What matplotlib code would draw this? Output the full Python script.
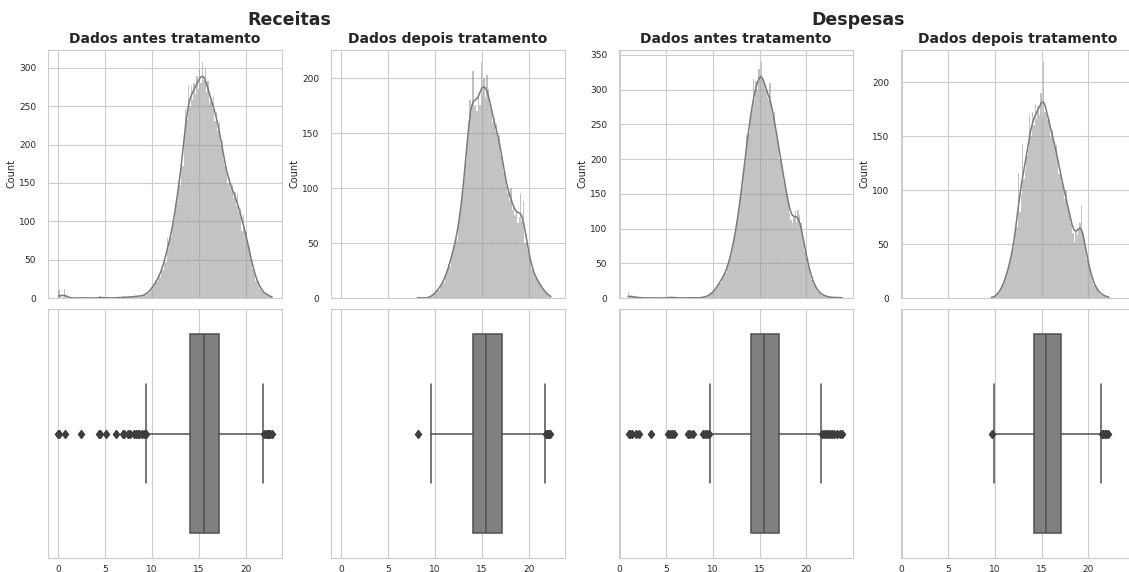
import numpy as np
import matplotlib
matplotlib.use("Agg")
import matplotlib.pyplot as plt
import seaborn as sns

# histogram counts, bins of width 0.15 starting at *_start
bin_w = 0.15

rec_antes_start = 0.0
rec_antes_counts = [
    10, 2, 0, 1, 12, 2, 0, 0, 0, 0, 0, 0, 0, 0, 0, 0, 1,
    0, 0, 0, 0, 0, 0, 0, 0, 0, 0, 0, 0, 2, 1, 0, 0, 1,
    0, 0, 0, 0, 0, 0, 1, 0, 0, 1, 0, 1, 2, 1, 0, 1, 2, 1, 1, 2, 2, 3, 2, 3, 3, 2,
    2, 5, 4, 8, 7, 12, 11, 17, 15, 24, 21, 31, 28, 40, 36, 52, 47, 78, 64, 80,
    79, 98, 102, 124, 127, 152, 148, 180, 172, 214, 247, 232, 278, 250, 276, 258,
    281, 266, 290, 272, 298, 280, 308, 284, 300, 268, 283, 254, 262, 246, 264, 231,
    242, 218, 230, 199, 206, 180, 172, 168, 150, 158, 143, 147, 131, 138, 120, 135,
    112, 116, 88, 108, 86, 86, 70, 66, 52, 50, 38, 33, 22, 21, 20, 12, 9, 8, 5, 6,
    3, 4, 2, 2,
]

rec_depois_start = 8.1
rec_depois_counts = [
    1, 0, 0, 0, 0, 0, 0, 0, 0, 1, 2, 3, 4, 6, 8, 7, 11, 13, 16, 14, 22, 26, 31, 28,
    40, 44, 48, 55, 52, 70, 77, 84, 98, 108, 125, 146, 160, 180, 168, 207, 175, 176,
    170, 186, 176, 215, 185, 200, 182, 203, 190, 177, 172, 160, 164, 152, 158, 145,
    148, 130, 128, 115, 110, 102, 96, 88, 100, 80, 85, 76, 80, 68, 74, 96, 70, 88,
    50, 58, 44, 40, 32, 26, 24, 20, 18, 16, 14, 12, 9, 8, 6, 5, 3, 2, 2,
]

desp_antes_start = 0.9
desp_antes_counts = [
    8, 3, 2, 1, 0, 1, 2, 1, 0, 0, 0, 0, 0, 0, 0, 0, 1,
    0, 0, 0, 0, 0, 0, 0, 0, 0, 0, 0, 1, 2, 0, 1, 2,
    0, 0, 0, 0, 0, 0, 0, 0, 0, 1, 0, 1, 0, 1, 0, 0, 0, 0, 0, 0, 2, 1, 2, 2, 3,
    4, 6, 8, 12, 11, 16, 20, 24, 22, 30, 33, 38, 36, 48, 55, 62, 70, 82, 92, 100,
    118, 128, 150, 160, 178, 196, 234, 235, 238, 262, 270, 315, 285, 312, 300, 330,
    322, 340, 315, 305, 300, 290, 285, 310, 270, 262, 268, 240, 232, 218, 200, 196,
    185, 168, 158, 150, 135, 122, 112, 108, 118, 125, 110, 127, 120, 108, 90, 80,
    66, 62, 48, 42, 32, 26, 20, 17, 14, 10, 8, 6, 5, 4, 3, 2, 2, 1, 1, 1, 1, 1, 0,
    1, 0, 1, 1,
]

desp_depois_start = 9.6
desp_depois_counts = [
    1, 0, 1, 2, 3, 5, 7, 9, 12, 15, 20, 24, 28, 34, 38, 46, 52, 60, 66, 116, 80, 96,
    143, 110, 120, 132, 138, 170, 150, 172, 160, 180, 166, 178, 170, 190, 168, 219,
    172, 170, 165, 166, 150, 156, 146, 140, 142, 128, 115, 118, 108, 104, 92, 100,
    84, 80, 70, 72, 60, 52, 62, 58, 64, 70, 85, 60, 48, 45, 36, 32, 26, 20, 16, 12,
    10, 8, 6, 5, 3, 3, 2, 2, 1, 1,
]

# boxplot stats: whislo, q1, median, q3, whishi
rec_antes_box = [9.36, 14.0, 15.57, 17.16, 21.84]
rec_antes_fliers = [0.0, 0.1, 0.67, 2.41, 4.33, 4.47, 5.04, 6.17, 6.88, 7.0, 7.4, 7.66,
                    8.12, 8.3, 8.5, 8.65, 8.94, 9.18, 9.3,
                    21.95, 22.1, 22.2, 22.3, 22.4, 22.5, 22.6, 22.77]
rec_depois_box = [9.52, 14.03, 15.45, 17.09, 21.67]
rec_depois_fliers = [8.13, 21.8, 21.95, 22.05, 22.15, 22.3]
desp_antes_box = [9.70, 14.12, 15.51, 17.11, 21.53]
desp_antes_fliers = [0.96, 1.14, 1.32, 1.78, 2.03, 3.39, 5.13, 5.35, 5.6, 5.78, 7.31,
                     7.56, 7.91, 8.91, 9.16, 9.4, 9.62,
                     21.7, 21.9, 22.1, 22.3, 22.5, 22.7, 23.0, 23.3, 23.6, 23.8]
desp_depois_box = [9.93, 14.18, 15.46, 17.02, 21.35]
desp_depois_fliers = [9.72, 21.45, 21.6, 21.75, 21.9, 22.15]

groups = ["Receitas", "Despesas"]
titles = ["Dados antes tratamento", "Dados depois tratamento"]

sns.set_style("whitegrid")

W, H = 1129, 572
fig = plt.figure(figsize=(W / 100, H / 100), dpi=100)


def px_axes(left, top, width, height):
    return fig.add_axes([left / W, 1 - (top + height) / H, width / W, height / H])


panels = [
    (rec_antes_start, rec_antes_counts, rec_antes_box, rec_antes_fliers, (-1.1, 23.85)),
    (rec_depois_start, rec_depois_counts, rec_depois_box, rec_depois_fliers, (-1.1, 23.85)),
    (desp_antes_start, desp_antes_counts, desp_antes_box, desp_antes_fliers, (-0.07, 25.0)),
    (desp_depois_start, desp_depois_counts, desp_depois_box, desp_depois_fliers, (-0.07, 25.0)),
]
lefts = [48, 331, 619, 901]
text_c = "#262626"
bw = 0.32

for i, (start, counts, box, fliers, xlim) in enumerate(panels):
    counts = np.array(counts, dtype=float)
    edges = start + bin_w * np.arange(len(counts) + 1)
    centers = (edges[:-1] + edges[1:]) / 2

    ax = px_axes(lefts[i], 50, 234, 248)
    ax.hist(centers, bins=edges, weights=counts, color="#808080", alpha=0.5,
            edgecolor="white", linewidth=0.1)
    # kde of the binned data, scaled to bar height
    grid = np.linspace(edges[0], edges[-1], 300)
    dens = (counts[None, :] * np.exp(-0.5 * ((grid[:, None] - centers[None, :]) / bw) ** 2)).sum(1)
    dens *= bin_w / (bw * np.sqrt(2 * np.pi))
    ax.plot(grid, dens, color="#7a7a7a", lw=1.1)
    ax.set_xlim(*xlim)
    ax.set_xticks([0, 5, 10, 15, 20])
    ax.tick_params(labelbottom=False, labelsize=6.5, colors=text_c, pad=5)
    ax.set_ylabel("Count", fontsize=7, color=text_c, labelpad=2)
    ax.set_title(titles[i % 2], fontsize=10, fontweight="bold", color=text_c, pad=5)

    bx = px_axes(lefts[i], 309, 234, 249)
    stats = [dict(whislo=box[0], q1=box[1], med=box[2], q3=box[3], whishi=box[4],
                  fliers=fliers)]
    line_c = "#505050"
    bx.bxp(stats, positions=[0], widths=0.8, orientation="horizontal", patch_artist=True,
           boxprops=dict(facecolor="#808080", edgecolor=line_c, linewidth=1.1),
           medianprops=dict(color=line_c, linewidth=1.1),
           whiskerprops=dict(color=line_c, linewidth=1.1),
           capprops=dict(color=line_c, linewidth=1.1),
           flierprops=dict(marker="d", markerfacecolor="#3d3d3d", markeredgecolor="#3d3d3d",
                           markersize=4.5))
    bx.set_ylim(0.5, -0.5)
    bx.set_yticks([])
    bx.set_xlim(*xlim)
    bx.set_xticks([0, 5, 10, 15, 20])
    bx.set_xticklabels(["0", "5", "10", "15", "20"])
    bx.tick_params(labelsize=6.5, colors=text_c, pad=1.5)

fig.text(289 / W, 1 - 20 / H, groups[0], ha="center", va="center", fontsize=12.5,
         fontweight="bold", color=text_c)
fig.text(858 / W, 1 - 20 / H, groups[1], ha="center", va="center", fontsize=12.5,
         fontweight="bold", color=text_c)

fig.savefig("out.png", dpi=100)
